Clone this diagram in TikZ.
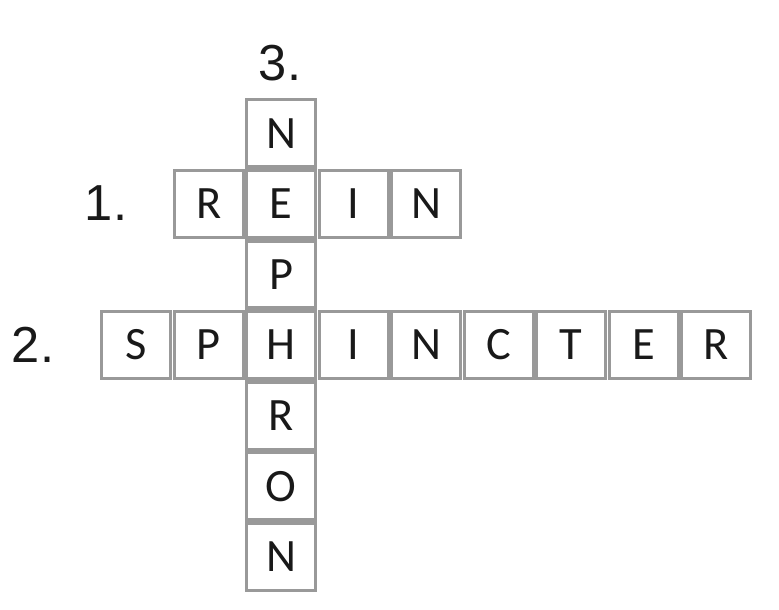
\documentclass[tikz,border=0pt]{standalone}
\usepackage{fontspec}
\setmainfont{Carlito}
\newfontfamily\numfont{Liberation Sans}
\usepackage{xcolor}
\usetikzlibrary{positioning}
\definecolor{cellgray}{rgb}{0.60,0.60,0.60}
\definecolor{ink}{rgb}{0.10,0.10,0.10}

\begin{document}
\begin{tikzpicture}[font=\fontsize{33}{33}\selectfont,text=ink,
  cell/.style={draw=cellgray,line width=2.3pt,minimum width=1.73cm,minimum height=1.68cm,inner sep=0pt},
  num/.style={font=\numfont\fontsize{36}{36}\selectfont}]
\useasboundingbox (0,0) rectangle (19.475,15.25);
% 3. down
\foreach \ch [count=\r from 0] in {N,E,P,H,R,O,N}
  \node[cell] (d\r) at (3.406+2*1.8125,11.9175-\r*1.765) {\ch};
% 1. across
\foreach \ch/\c in {R/1,I/3,N/4}
  \node[cell] (a\c) at (3.406+\c*1.8125,11.9175-1.765) {\ch};
% 2. across
\foreach \ch/\c in {S/0,P/1,I/3,N/4,C/5,T/6,E/7,R/8}
  \node[cell] (b\c) at (3.406+\c*1.8125,11.9175-3*1.765) {\ch};
\node[num] (one) at (2.65,10.175) {1.};
\node[num] (two) at (0.825,6.625) {2.};
\node[num] (three) at (7.0,13.675) {3.};
\end{tikzpicture}
\end{document}
